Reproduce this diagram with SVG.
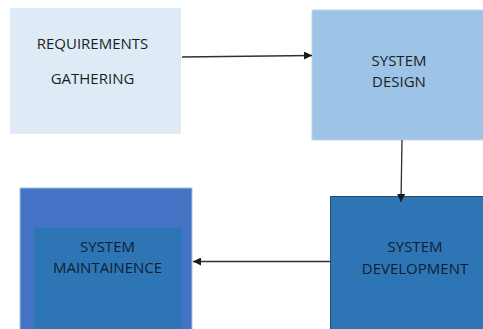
<svg xmlns="http://www.w3.org/2000/svg" width="483" height="329" viewBox="0 0 483 329">
<defs>
<style>
text{font-family:"Open Sans","Liberation Sans",sans-serif;font-size:15px;text-anchor:middle;fill:#1b1f24}
.dk{fill:#0f1f33}
.conn{stroke:#303030;stroke-width:1.3;fill:none}
</style>
<marker id="ah" viewBox="0 0 10 10" refX="10" refY="5" markerWidth="9" markerHeight="8" markerUnits="userSpaceOnUse" orient="auto">
<path d="M0,0 L10,5 L0,10 Z" fill="#1a1a1a"/>
</marker>
</defs>
<rect width="483" height="329" fill="#ffffff"/>
<g id="req">
<rect x="10" y="8" width="171" height="126" fill="#deebf7"/>
<text x="92.5" y="49">REQUIREMENTS</text>
<text x="92.5" y="84">GATHERING</text>
</g>
<g id="design">
<rect x="312" y="10" width="175" height="130" fill="#9dc3e6" stroke="#bcd7ef" stroke-width="1"/>
<rect x="333.5" y="43.5" width="132" height="83" fill="none" stroke="#a4c7e8" stroke-width="0.6"/>
<text x="399" y="66">SYSTEM</text>
<text x="399" y="87">DESIGN</text>
</g>
<g id="development">
<rect x="330.5" y="196.5" width="156" height="136" fill="#2e75b6" stroke="#1f4e79" stroke-width="1"/>
<text class="dk" x="415" y="252">SYSTEM</text>
<text class="dk" x="415" y="274">DEVELOPMENT</text>
</g>
<g id="maintenance">
<rect x="20" y="188" width="172" height="145" fill="#4472c4" stroke="#9dc3e6" stroke-width="1"/>
<rect x="34" y="228" width="148" height="105" fill="#2e75b6"/>
<text class="dk" x="107.5" y="252">SYSTEM</text>
<text class="dk" x="107.5" y="273">MAINTAINENCE</text>
</g>
<g id="connectors">
<line class="conn" x1="182" y1="57" x2="312" y2="55.5" marker-end="url(#ah)"/>
<line class="conn" x1="402" y1="140" x2="401" y2="202" marker-end="url(#ah)"/>
<line class="conn" x1="330" y1="261.5" x2="193" y2="261.5" marker-end="url(#ah)"/>
</g>
</svg>
